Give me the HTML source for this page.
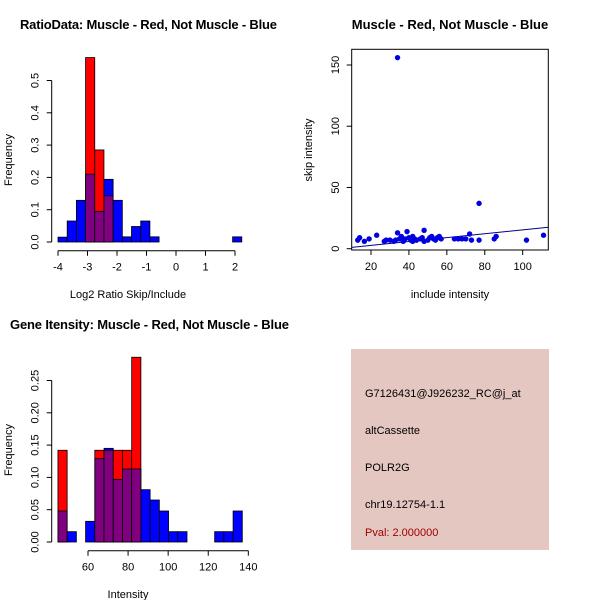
<!DOCTYPE html>
<html><head><meta charset="utf-8"><style>
html,body{margin:0;padding:0;background:#fff}
svg text{font-family:"Liberation Sans",sans-serif;fill:#000}
</style></head><body>
<svg id="chart" width="600" height="600" xmlns="http://www.w3.org/2000/svg">
<rect width="600" height="600" fill="#fff"/>
<text x="20" y="29" font-size="13" font-weight="bold" textLength="257">RatioData: Muscle - Red, Not Muscle - Blue</text>
<text x="450" y="29" font-size="13" font-weight="bold" text-anchor="middle">Muscle - Red, Not Muscle - Blue</text>
<text x="10" y="329" font-size="13" font-weight="bold" textLength="279">Gene Itensity: Muscle - Red, Not Muscle - Blue</text>
<text x="128" y="298" font-size="11" text-anchor="middle">Log2 Ratio Skip/Include</text>
<text transform="translate(12,160) rotate(-90)" font-size="11" text-anchor="middle">Frequency</text>
<text x="128" y="598" font-size="11" text-anchor="middle">Intensity</text>
<text transform="translate(12,450) rotate(-90)" font-size="11" text-anchor="middle">Frequency</text>
<text x="450" y="298" font-size="11" text-anchor="middle">include intensity</text>
<text transform="translate(312,150) rotate(-90)" font-size="11" text-anchor="middle">skip intensity</text>
<g>
<rect x="351" y="349" width="198" height="201" fill="#e5c7c1"/>
<text x="365" y="397" font-size="11">G7126431@J926232_RC@j_at</text>
<text x="365" y="434" font-size="11">altCassette</text>
<text x="365" y="471" font-size="11">POLR2G</text>
<text x="365" y="508" font-size="11">chr19.12754-1.1</text>
<text x="365" y="536" font-size="11" style="fill:#a00000">Pval: 2.000000</text>
</g>
</svg>
<script>
// Ratio histogram
const ratioStart = -4.0, ratioWidth = 0.3115;
const ratioBlue = [0.015,0.065,0.129,0.21,0.095,0.194,0.129,0.016,0.048,0.065,0.016,0,0,0,0,0,0,0,0,0.016];
const ratioRed  = [0,0,0,0.571,0.285,0.143,0,0,0,0,0,0,0,0,0,0,0,0,0,0];
const ratioXTicks = [-4,-3,-2,-1,0,1,2];
const ratioYTicks = [0,0.1,0.2,0.3,0.4,0.5];
// Intensity histogram
const intStart = 45, intWidth = 4.6;
const intBlue = [0.048,0.016,0,0.032,0.129,0.145,0.097,0.113,0.113,0.081,0.065,0.048,0.016,0.016,0,0,0,0.016,0.016,0.048];
const intRed  = [0.142,0,0,0,0.142,0.142,0.142,0.142,0.286,0,0,0,0,0,0,0,0,0,0,0];
const intXTicks = [60,80,100,120,140];
const intYTicks = [0,0.05,0.10,0.15,0.20,0.25];
const intYLabels = ["0.00","0.05","0.10","0.15","0.20","0.25"];
// Scatter
const scatX = [13,14,16.5,19,23,27,28,30,32,33,34,34,35,36,37,38,39,40,41,42,42,43,44,46,47,48,48,50,51,52,53,54,55,56,57,64,66,68,70,72,73,77,77,85,86,102,111];
const scatY = [7,9,6,8,11,6,7,7,6,7,13,156,8,10,6,8,14,9,7,10,6,8,7,8,9,6,15,7,9,10,8,7,9,10,8,8,8,8,8,12,7,37,7,8,10,7,11];
const redX = [44], redY = [7];
const fitIntercept = -0.45, fitSlope = 0.158;
const scatXTicks = [20,40,60,80,100];
const scatYTicks = [0,50,100,150];

const svg = document.getElementById('chart');
const NS = 'http://www.w3.org/2000/svg';
function mk(tag, attrs){const e=document.createElementNS(NS,tag);for(const k in attrs)e.setAttribute(k,attrs[k]);svg.appendChild(e);return e;}

function histo(opt){
  const sx=v=>opt.x0+(v-opt.d0)*opt.kx, sy=v=>opt.y0-v*opt.ky;
  for(let i=0;i<opt.blue.length;i++){
    const a=opt.start+i*opt.width, b=a+opt.width;
    const bl=opt.blue[i], rd=opt.red[i];
    const mx=Math.max(bl,rd), mn=Math.min(bl,rd);
    if(mx<=0) continue;
    const top=mk('rect',{x:sx(a),y:sy(mx),width:sx(b)-sx(a),height:sy(0)-sy(mx),fill:bl>=rd?'#0000ff':'#ff0000',stroke:'#000','stroke-width':0.8});
    
    
    if(mn>0){
      const p=mk('rect',{x:sx(a),y:sy(mn),width:sx(b)-sx(a),height:sy(0)-sy(mn),fill:'#800080',stroke:'#000','stroke-width':0.8});
      
      
    }
  }
  const ax=opt.axisX, ay=opt.axisY;
  mk('line',{x1:sx(opt.xt[0]),x2:sx(opt.xt[opt.xt.length-1]),y1:ay,y2:ay,stroke:'#000'});
  opt.xt.forEach(t=>{mk('line',{x1:sx(t),x2:sx(t),y1:ay,y2:ay+5,stroke:'#000'});
    const tx=mk('text',{x:sx(t),y:ay+20,'font-size':11,'text-anchor':'middle'});tx.textContent=t;
    
    });
  mk('line',{x1:ax,x2:ax,y1:sy(opt.yt[0]),y2:sy(opt.yt[opt.yt.length-1]),stroke:'#000'});
  opt.yt.forEach((t,i)=>{mk('line',{x1:ax,x2:ax-5,y1:sy(t),y2:sy(t),stroke:'#000'});
    const tx=mk('text',{transform:`translate(${ax-13},${sy(t)}) rotate(-90)`,'font-size':11,'text-anchor':'middle'});tx.textContent=opt.yl[i];
    
    });
}
histo({name:'ratio',start:ratioStart,width:ratioWidth,blue:ratioBlue,red:ratioRed,x0:58,d0:-4,kx:29.5,y0:242,ky:323,xt:ratioXTicks,yt:ratioYTicks,yl:ratioYTicks.map(String).map(s=>s==='0'?'0.0':s),axisX:51.7,axisY:250.7});
histo({name:'intensity',start:intStart,width:intWidth,blue:intBlue,red:intRed,x0:88,d0:60,kx:2.004,y0:542,ky:646,xt:intXTicks,yt:intYTicks,yl:intYLabels,axisX:51.7,axisY:550.7});

// scatter
const px=v=>371+(v-20)*1.896, py=v=>248.7-v*1.2247;
mk('rect',{x:351.7,y:49.3,width:196.6,height:200.7,fill:'none',stroke:'#000'});
scatXTicks.forEach(t=>{mk('line',{x1:px(t),x2:px(t),y1:250,y2:255,stroke:'#000'});
  const tx=mk('text',{x:px(t),y:270,'font-size':11,'text-anchor':'middle'});tx.textContent=t;
  
  });
scatYTicks.forEach(t=>{mk('line',{x1:351.7,x2:346.7,y1:py(t),y2:py(t),stroke:'#000'});
  const tx=mk('text',{transform:`translate(339,${py(t)}) rotate(-90)`,'font-size':11,'text-anchor':'middle'});tx.textContent=t;
  
  });
const xa=(351.7-371)/1.896+20, xb=(548.3-371)/1.896+20;
const fl=mk('line',{x1:px(xa),y1:py(fitIntercept+fitSlope*xa),x2:px(xb),y2:py(fitIntercept+fitSlope*xb),stroke:'#00008b'});


redX.forEach((x,i)=>{const c=mk('circle',{cx:px(x),cy:py(redY[i]),r:2.7,fill:'#cc0000'});
  
  });
scatX.forEach((x,i)=>{const c=mk('circle',{cx:px(x),cy:py(scatY[i]),r:2.7,fill:'#0000e0'});
  
  });
</script>
</body></html>
